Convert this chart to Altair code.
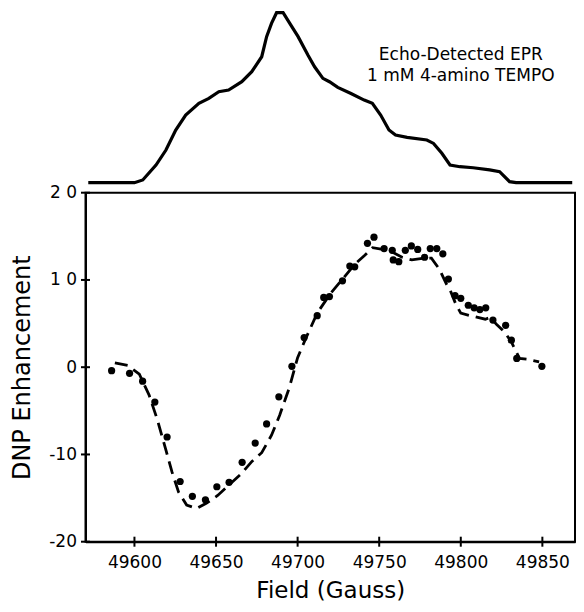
import altair as alt
import pandas as pd

# ---- data ----
dot_field = [49586, 49597, 49605, 49612.5, 49620, 49628, 49635.5, 49643.5, 49650.5, 49658,
             49666, 49674, 49681, 49688.5, 49696.5, 49704, 49712, 49716, 49719.5, 49727.5,
             49732, 49735, 49742.8, 49746.8, 49753, 49758, 49758.6, 49762, 49766, 49769.7,
             49773.6, 49777.8, 49781.3, 49785.3, 49789, 49792.4, 49796.5, 49800, 49804.6, 49808.2,
             49811.7, 49815.3, 49819.7, 49827.5, 49831, 49834.3, 49849.7]
dot_enh = [-0.4, -0.7, -1.6, -4.0, -8.0, -13.1, -14.8, -15.2, -13.7, -13.2,
           -10.9, -8.7, -6.5, -3.4, 0.1, 3.4, 5.9, 8.0, 8.1, 9.9,
           11.6, 11.5, 14.2, 14.9, 13.6, 13.4, 12.3, 12.1, 13.4, 13.9,
           13.5, 12.6, 13.6, 13.6, 13.0, 10.1, 8.2, 7.9, 7.1, 6.8,
           6.6, 6.8, 5.4, 4.8, 3.1, 1.0, 0.1]

sim_field = [49588, 49596, 49603, 49609, 49614, 49619, 49623, 49627, 49632, 49638,
             49644, 49651, 49658, 49665, 49672, 49678, 49684, 49689, 49695, 49700,
             49705, 49712, 49720, 49728, 49735, 49741, 49746, 49752, 49758, 49764,
             49770, 49777, 49782, 49787, 49791, 49794, 49797, 49800, 49806, 49815,
             49818, 49822, 49827, 49831, 49836, 49841, 49848]
sim_enh = [0.5, 0.2, -0.8, -3.2, -6.0, -9.3, -12.0, -14.3, -15.8, -16.2,
           -15.6, -14.7, -13.5, -12.3, -10.8, -9.8, -7.8, -5.5, -2.3, 1.1,
           3.3, 6.2, 8.4, 10.2, 11.8, 12.8, 13.7, 13.5, 13.2, 12.6,
           12.3, 12.5, 12.5, 11.2, 9.6, 8.6, 7.2, 6.2, 5.9, 5.5,
           5.7, 4.9, 4.0, 2.9, 1.0, 0.9, 0.6]

epr_field = [49571.7, 49600.0, 49605.1, 49613.2, 49619.3, 49625.3, 49631.4, 49639.5, 49645.6, 49651.7,
             49657.7, 49665.8, 49671.9, 49678.0, 49681.0, 49684.0, 49687.1, 49691.1, 49695.2, 49700.3,
             49706.3, 49710.4, 49715.5, 49719.5, 49724.6, 49732.7, 49740.8, 49745.8, 49750.9, 49756.0,
             49760.0, 49767.1, 49779.2, 49783.3, 49788.4, 49793.4, 49799.5, 49807.6, 49817.7, 49823.8,
             49829.9, 49833.9, 49848.1, 49868.3]
epr_int = [0.0, 0.0, 0.016, 0.104, 0.192, 0.31, 0.398, 0.467, 0.496, 0.535,
           0.545, 0.594, 0.653, 0.741, 0.859, 0.937, 1.0, 1.0, 0.937, 0.859,
           0.751, 0.682, 0.614, 0.594, 0.561, 0.525, 0.486, 0.467, 0.398, 0.31,
           0.28, 0.267, 0.251, 0.231, 0.173, 0.104, 0.094, 0.088, 0.075, 0.065,
           0.006, 0.0, 0.0, 0.0]

x_ticks = [49600, 49650, 49700, 49750, 49800, 49850]
y_ticks = [-20, -10, 0, 10, 20]
y_tick_labels = ["-20", "-10", "0", "1 0", "2 0"]

annot_lines = ["Echo-Detected EPR", "1 mM 4-amino TEMPO"]
annot_field = [49800, 49800]
annot_int = [0.719, 0.601]

# ---- tables ----
dots = pd.DataFrame({"field": dot_field, "enh": dot_enh})
sim = pd.DataFrame({"field": sim_field, "enh": sim_enh, "order": list(range(len(sim_field)))})
epr = pd.DataFrame({"field": epr_field, "intensity": epr_int, "order": list(range(len(epr_field)))})
xt = pd.DataFrame({"field": x_ticks})
yt = pd.DataFrame({"enh": y_ticks})
annot = pd.DataFrame({"field": annot_field, "intensity": annot_int, "txt": annot_lines})

# ---- layout ----
FONT = "DejaVu Sans"
PAD_L, PAD_T, PAD_R, PAD_B = 77.5, 184.7, 1, 61.8
W = 568 - PAD_L - PAD_R
H = 349
EPR_BASE = 10      # px above plot top where the EPR baseline sits
EPR_SPAN = 170     # px height of the EPR trace (0 -> 1)

xscale = alt.Scale(domain=[49570, 49870], nice=False, zero=False)
yscale = alt.Scale(domain=[-20, 20], nice=False, zero=False)
epr_lo = -(H + EPR_BASE) / EPR_SPAN
epr_hi = epr_lo + H / EPR_SPAN
escale = alt.Scale(domain=[epr_lo, epr_hi], nice=False, zero=False)

label_expr = " : ".join(
    [f"datum.value == {v} ? '{l}'" for v, l in zip(y_ticks, y_tick_labels)]
) + " : datum.label"

x_axis = alt.Axis(values=x_ticks, format="d", title="Field (Gauss)", ticks=False, tickSize=0,
                  labelPadding=12.5, labelFontSize=17, labelFont=FONT, labelColor="black",
                  titleFont=FONT, titleFontSize=23, titleFontWeight="normal", titleColor="black",
                  titlePadding=9, domainColor="black", domainWidth=2, grid=False)
y_axis = alt.Axis(values=y_ticks, labelExpr=label_expr, title="DNP Enhancement", ticks=False, tickSize=0,
                  labelPadding=9, labelFontSize=17, labelFont=FONT, labelColor="black",
                  titleFont=FONT, titleFontSize=24, titleFontWeight="normal", titleColor="black",
                  titlePadding=14, domainColor="black", domainWidth=2, grid=False)

sim_line = alt.Chart(sim).mark_line(color="black", strokeWidth=2.8, strokeDash=[13, 7]).encode(
    x=alt.X("field:Q", scale=xscale, axis=x_axis),
    y=alt.Y("enh:Q", scale=yscale, axis=y_axis),
    order="order:Q",
)
dot_layer = alt.Chart(dots).mark_circle(color="black", size=52, opacity=1).encode(
    x=alt.X("field:Q", scale=xscale),
    y=alt.Y("enh:Q", scale=yscale),
)
ytick_layer = alt.Chart(yt).mark_tick(color="black", thickness=2, size=9, opacity=1).encode(
    y=alt.Y("enh:Q", scale=yscale),
    x=alt.value(0),
)
xtick_layer = alt.Chart(xt).mark_tick(color="black", thickness=2, size=10, opacity=1).encode(
    x=alt.X("field:Q", scale=xscale),
    y=alt.value(H),
)
main = alt.layer(sim_line, dot_layer, ytick_layer, xtick_layer)

epr_line = alt.Chart(epr).mark_line(color="black", strokeWidth=3.2).encode(
    x=alt.X("field:Q", scale=xscale),
    y=alt.Y("intensity:Q", scale=escale, axis=None),
    order="order:Q",
)
annot_layer = alt.Chart(annot).mark_text(font=FONT, fontSize=17, color="black", align="center",
                                         baseline="alphabetic").encode(
    x=alt.X("field:Q", scale=xscale),
    y=alt.Y("intensity:Q", scale=escale, axis=None),
    text="txt:N",
)
epr_part = alt.layer(epr_line, annot_layer)

chart = alt.layer(main, epr_part).resolve_scale(y="independent").properties(
    width=W, height=H,
    autosize=alt.AutoSizeParams(type="none"),
    padding={"left": PAD_L, "top": PAD_T, "right": PAD_R, "bottom": PAD_B},
    background="white",
    view=alt.ViewBackground(stroke="black", strokeWidth=2, fill=None),
)

chart.save("out.html", embed_options={"renderer": "svg", "actions": False})
